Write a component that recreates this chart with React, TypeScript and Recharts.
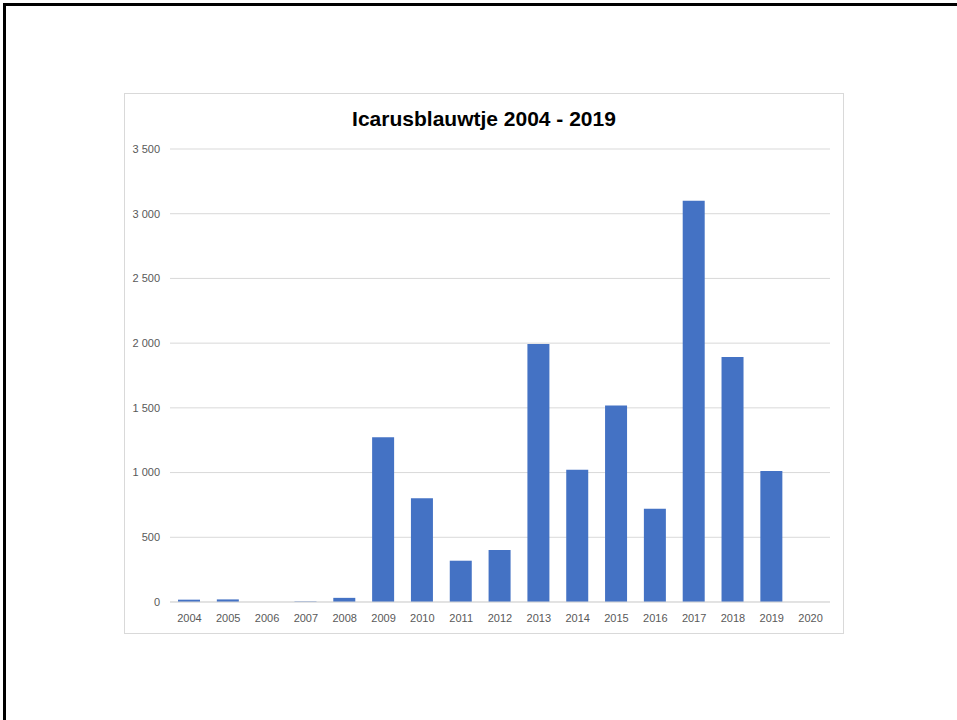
import { BarChart, Bar, XAxis, YAxis, CartesianGrid } from "recharts";

const years = [
  "2004", "2005", "2006", "2007", "2008", "2009", "2010", "2011", "2012",
  "2013", "2014", "2015", "2016", "2017", "2018", "2019", "2020",
];
const counts = [
  18, 20, 0, 4, 32, 1273, 801, 319, 402, 1994, 1021, 1518, 720, 3100, 1893, 1012, 0,
];
const yTicks = [0, 500, 1000, 1500, 2000, 2500, 3000, 3500];

const data = years.map((year, i) => ({ year, count: counts[i] }));

const fmt = (v: number) => String(v).replace(/\B(?=(\d{3})+(?!\d))/g, " ");

const tickStyle = { fill: "#595959", fontSize: 11, fontFamily: "Liberation Sans, Arial, sans-serif" };

export default function App() {
  return (
    <div style={{ position: "absolute", left: 0, top: 0, width: 957, height: 720, background: "#fff", overflow: "hidden" }}>
      {/* slide frame */}
      <div
        style={{
          position: "absolute",
          left: 3,
          top: 3,
          width: 960,
          height: 730,
          borderTop: "3px solid #000",
          borderLeft: "3px solid #000",
        }}
      />
      <div
        style={{
          position: "absolute",
          left: 124,
          top: 93,
          width: 718,
          height: 539,
          border: "1px solid #d9d9d9",
          background: "#fff",
        }}
      >
        <div
          style={{
            position: "absolute",
            left: 0,
            top: 13,
            width: 718,
            textAlign: "center",
            fontFamily: "Liberation Sans, Arial, sans-serif",
            fontWeight: 700,
            fontSize: 21,
            color: "#000",
          }}
        >
          Icarusblauwtje 2004 - 2019
        </div>
        <BarChart
          width={718}
          height={539}
          data={data}
          margin={{ top: 55, right: 13, bottom: 0, left: 0 }}
          barSize={22}
        >
          <CartesianGrid vertical={false} stroke="#d9d9d9" />
          <XAxis
            dataKey="year"
            height={31}
            tick={tickStyle}
            tickLine={false}
            axisLine={{ stroke: "#d9d9d9" }}
            tickSize={8}
            tickMargin={4}
            interval={0}
          />
          <YAxis
            width={45}
            domain={[0, 3500]}
            ticks={yTicks}
            tickFormatter={fmt}
            tick={tickStyle}
            tickLine={false}
            axisLine={false}
            tickSize={8}
            tickMargin={2}
          />
          <Bar dataKey="count" fill="#4472c4" isAnimationActive={false} />
        </BarChart>
      </div>
    </div>
  );
}
